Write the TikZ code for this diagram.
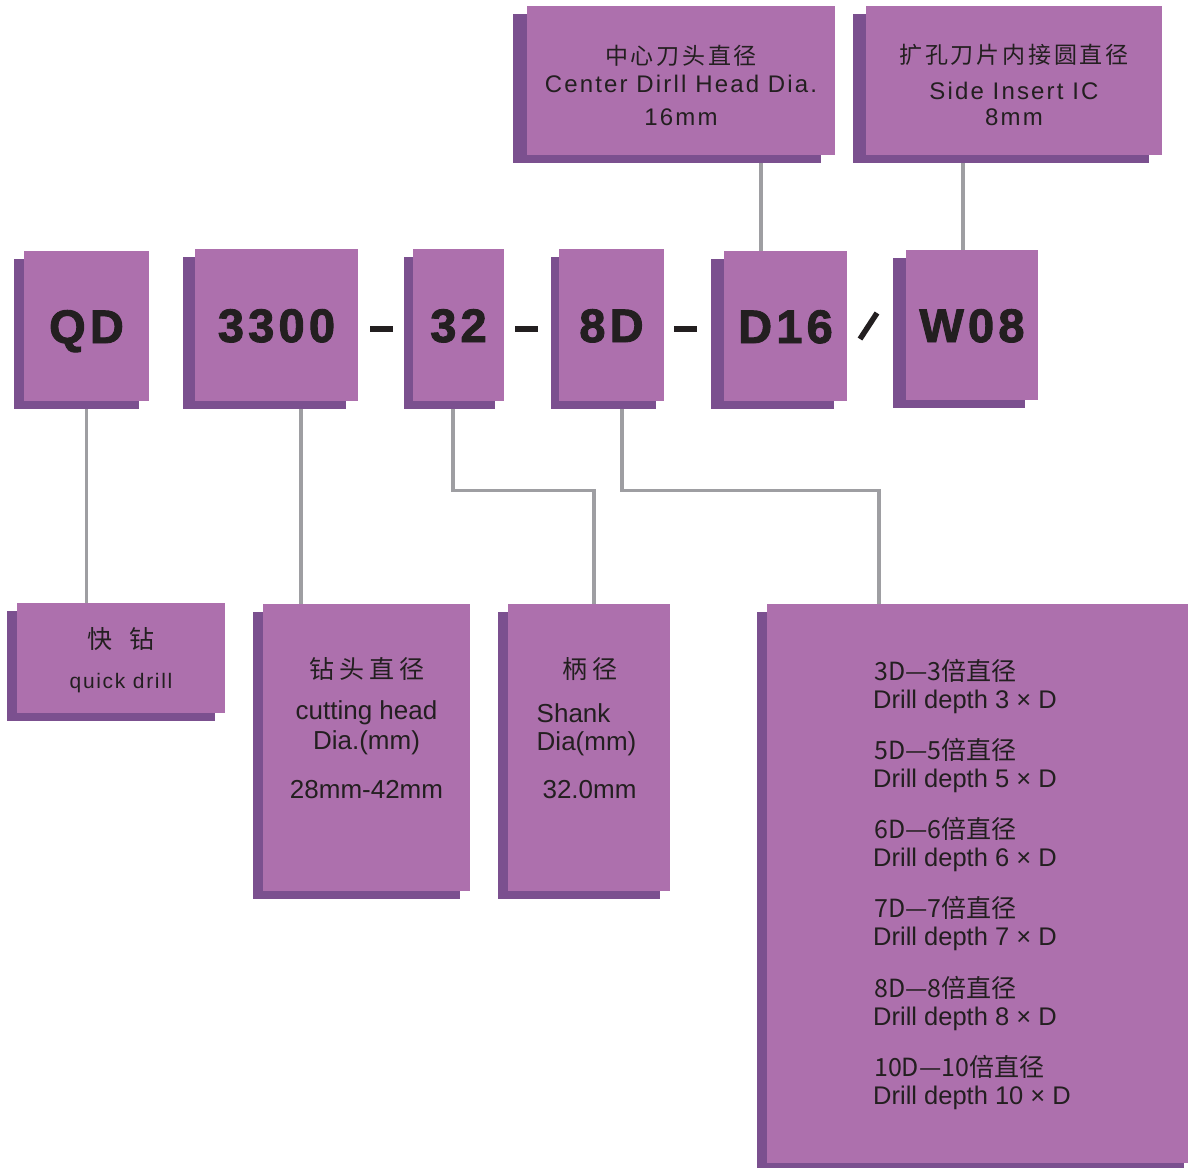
\documentclass[tikz,border=0pt]{standalone}
\usepackage{fontspec}
\setmainfont{Liberation Sans}
\newfontfamily\cjk{Noto Sans CJK SC}
\newfontfamily\cjkls[LetterSpace=12]{Noto Sans CJK SC}
\newfontfamily\cjklw[LetterSpace=20]{Noto Sans CJK SC}
\newfontfamily\lsans[LetterSpace=9]{Liberation Sans}
\newfontfamily\qsans[LetterSpace=8]{Liberation Sans}
\newfontfamily\bigsans[LetterSpace=9, BoldFeatures={FakeBold=2}]{Liberation Sans}
\usetikzlibrary{calc}
\definecolor{frontc}{HTML}{AD70AD}
\definecolor{shadc}{HTML}{7B508F}
\definecolor{txtc}{HTML}{231F20}
\definecolor{linec}{HTML}{9E9EA2}
\pgfdeclarelayer{bg}\pgfsetlayers{bg,main}
\tikzset{
  pbox/.style={rectangle, fill=frontc, draw=none, inner sep=0pt, text=txtc},
  bigcode/.style={font=\bigsans\bfseries\fontsize{47}{50}\selectfont, text height=34pt, text depth=0pt},
  conn/.style={draw=linec, line width=3.3pt},
  lbl/.style={inner sep=0pt, text=txtc, anchor=base},
  sep/.style={fill=txtc},
  fcn/.style={font=\cjkls\fontsize{23}{26}\selectfont},
  fen/.style={font=\lsans\fontsize{24}{28}\selectfont},
  fcw/.style={font=\cjklw\fontsize{25}{28}\selectfont},
  fmid/.style={font=\fontsize{26}{30}\selectfont},
}
\newcommand\pbx[7]{%
  \pgfmathsetmacro\bw{#4-#2}\pgfmathsetmacro\bh{#5-#3}%
  \pgfmathsetmacro\bcx{(#2+#4)/2}\pgfmathsetmacro\bcy{(#3+#5)/2}%
  \fill[shadc] (#2-#6,#3+8) rectangle (#4-#6,#5+8);
  \node[pbox, minimum width=\bw pt, minimum height=\bh pt, #7] (#1) at (\bcx,\bcy)
}
\begin{document}
\begin{tikzpicture}[x=1pt,y=-1pt]
\useasboundingbox (0,0) rectangle (1188,1167);

% code boxes
\pbx{qd}{24}{251}{149}{401}{10}{bigcode} {QD};
\pbx{b3300}{195}{249}{358}{401}{12}{bigcode} {3300};
\pbx{b32}{413}{249}{504}{401}{9}{bigcode} {32};
\pbx{b8d}{559}{249}{664}{401}{8}{bigcode} {8D};
\pbx{d16}{724}{251}{847}{401}{13}{bigcode} {D16};
\pbx{w08}{906}{250}{1038}{400}{13}{bigcode} {W08};
% description boxes
\pbx{cen}{527}{6}{835}{155}{14}{} {};
\pbx{side}{866}{6}{1162}{155}{13}{} {};
\pbx{qdl}{17}{603}{225}{713}{10}{} {};
\pbx{cut}{263}{604}{470}{891}{10}{} {};
\pbx{shank}{508}{604}{670}{891}{10}{} {};
\pbx{depth}{767}{604}{1194}{1163}{10}{} {};

% connectors
\begin{pgfonlayer}{bg}
\fill[white] (0,0) rectangle (1188,1167);
\draw[conn] (qd.south) -- (qd.south |- qdl.north);
\draw[conn] ([xshift=24.5pt]b3300.south) -- ([xshift=24.5pt]b3300.south |- cut.north);
\draw[conn] ([xshift=-5.5pt]b32.south) -- ++(0,89) -| ([xshift=5pt]shank.north);
\draw[conn] ([xshift=10.5pt]b8d.south) -- ++(0,89) -| ([xshift=-101.5pt]depth.north);
\draw[conn] ([xshift=-24.5pt]d16.north) -- ([xshift=-24.5pt]d16.north |- cen.south);
\draw[conn] ([xshift=-9pt]w08.north) -- ([xshift=-9pt]w08.north |- side.south);
\end{pgfonlayer}

% separators
\fill[sep] (370,326) rectangle (393,332);
\fill[sep] (515,326) rectangle (538,332);
\fill[sep] (674,326) rectangle (697,332);
\draw[txtc, line width=5.5pt] (860,339) -- (877,313);

% center head
\node[lbl, fcn] (t1) at (681,64) {中心刀头直径};
\node[lbl, fen] (t2) at (681,92) {Center Dirll Head Dia.};
\node[lbl, fen] (t3) at (681,125) {16mm};
% side insert
\node[lbl, fcn] (t4) at (1014,63) {扩孔刀片内接圆直径};
\node[lbl, fen] (t5) at (1014,99) {Side Insert IC};
\node[lbl, fen] (t6) at (1014,125) {8mm};
% quick drill
\node[lbl, font=\cjk\fontsize{25}{28}\selectfont] (t7) at (121,648) {快\hspace{17pt}钻};
\node[lbl, font=\qsans\fontsize{21}{24}\selectfont] (t8) at (121,688) {quick drill};
% cutting head
\node[lbl, fcw] (t9) at (366.5,678) {钻头直径};
\node[lbl, fmid] (t10) at (366.5,719) {cutting head};
\node[lbl, fmid] (t11) at (366.5,749) {Dia.(mm)};
\node[lbl, fmid] (t12) at (366.5,798) {28mm-42mm};
% shank
\node[lbl, fcw] (t13) at (589.5,678) {柄径};
\node[lbl, fmid, anchor=base west] (t14) at (536.5,722) {Shank};
\node[lbl, fmid, anchor=base west] (t15) at (536.5,750) {Dia(mm)};
\node[lbl, fmid] (t16) at (589.5,798) {32.0mm};
% depth
\foreach \n [count=\i from 0] in {3,5,6,7,8,10} {
  \node[lbl, anchor=base west, font=\cjk\fontsize{25}{28}\selectfont] (dc\i) at (874,680+79.3*\i) {\n D—\n 倍直径};
  \node[lbl, anchor=base west, font=\fontsize{25.5}{28}\selectfont] (dd\i) at (873,708+79.3*\i) {Drill depth \n\ × D};
}
\end{tikzpicture}
\end{document}
